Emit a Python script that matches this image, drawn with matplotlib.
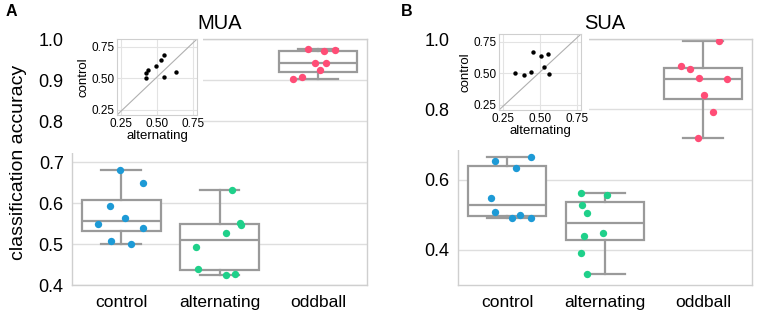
"""
Decoding accuracy per condition (MUA / SUA) as boxplots with session dots,
plus an inset scatter of control vs alternating accuracy per session.
"""
import matplotlib
matplotlib.use("Agg")
import matplotlib.pyplot as plt
import numpy as np
from matplotlib.patches import Rectangle

plt.rcParams["font.family"] = ["Liberation Sans", "DejaVu Sans"]

conditions = ["control", "alternating", "oddball"]
colors = ["#1d9ad6", "#1fd08a", "#ff4d76"]

# MUA, sessions in the same order for control / alternating
mua_control = [0.680, 0.648, 0.593, 0.563, 0.548, 0.539, 0.507, 0.500]
mua_alternating = [0.550, 0.528, 0.493, 0.439, 0.632, 0.426, 0.547, 0.424]
mua_oddball = [0.975, 0.971, 0.972, 0.942, 0.941, 0.924, 0.908, 0.902]

# SUA
sua_control = [0.665, 0.654, 0.633, 0.547, 0.509, 0.500, 0.490, 0.491]
sua_alternating = [0.449, 0.555, 0.505, 0.529, 0.440, 0.331, 0.391, 0.561]
sua_oddball = [0.995, 0.924, 0.914, 0.889, 0.886, 0.841, 0.791, 0.719]

# horizontal strip jitter (category units)
mua_jitter = [
    [-0.01, 0.22, -0.11, 0.04, -0.24, 0.22, -0.10, 0.10],
    [0.21, 0.07, -0.24, -0.22, 0.13, 0.16, 0.22, 0.07],
    [-0.10, 0.06, 0.17, -0.03, 0.08, 0.02, -0.16, -0.25],
]
sua_jitter = [
    [0.24, -0.12, 0.09, -0.16, -0.12, 0.13, 0.05, 0.24],
    [-0.02, 0.02, -0.18, -0.23, -0.21, -0.18, -0.24, -0.24],
    [0.16, -0.22, -0.13, -0.04, 0.24, 0.01, 0.10, -0.05],
]

W, H = 759, 319
BOX_GRAY = "#9a9a9a"
GRID = "#dedede"
SPINE = "#cfcfcf"


def fx(px):
    return px / W


def fy(py):
    return 1 - py / H


def panel(ax, groups, jitter, title, ylim, yticks):
    pos = np.arange(len(groups))
    lp = dict(color=BOX_GRAY, linewidth=1.6)
    ax.boxplot(groups, positions=pos, widths=0.8, whis=(0, 100),
               showfliers=False, patch_artist=True,
               boxprops=dict(facecolor="white", edgecolor=BOX_GRAY, linewidth=1.6),
               medianprops=lp, whiskerprops=lp, capprops=lp, zorder=2)
    for i, (vals, jit) in enumerate(zip(groups, jitter)):
        ax.scatter(i + np.array(jit), vals, s=28, color=colors[i],
                   linewidths=0, zorder=3)
    ax.set_xlim(-0.5, len(groups) - 0.5)
    ax.set_ylim(*ylim)
    ax.set_yticks(yticks)
    ax.set_xticks(pos)
    ax.set_xticklabels(conditions)
    ax.tick_params(axis="y", length=0, pad=6, labelsize=13)
    ax.tick_params(axis="x", length=0, pad=7, labelsize=12.5)
    ax.yaxis.grid(True, color=GRID, lw=1.0, zorder=0)
    ax.set_axisbelow(True)
    for s in ax.spines.values():
        s.set_color(SPINE)
        s.set_linewidth(1.0)
    ax.set_title(title, fontsize=14.5, pad=7)


def inset(rect, alt, ctrl):
    ax = fig.add_axes(rect, zorder=2)
    ax.scatter(alt, ctrl, s=10, color="black", linewidths=0, zorder=3)
    ax.plot([0, 1], [0, 1], transform=ax.transAxes, color="#b0b0b0", lw=0.8,
            zorder=2)
    ax.set_xlim(0.22, 0.78)
    ax.set_ylim(0.21, 0.81)
    ticks = [0.25, 0.5, 0.75]
    ax.set_xticks(ticks)
    ax.set_yticks(ticks)
    ax.set_xticklabels(["0.25", "0.50", "0.75"])
    ax.set_yticklabels(["0.25", "0.50", "0.75"])
    ax.tick_params(length=0, pad=2, labelsize=8.5)
    ax.grid(True, color="#e3e3e3", lw=0.8)
    ax.set_axisbelow(True)
    for s in ax.spines.values():
        s.set_color(SPINE)
        s.set_linewidth(0.8)
    ax.set_xlabel("alternating", fontsize=9.5, labelpad=0)
    ax.set_ylabel("control", fontsize=9.5, labelpad=1)
    return ax


fig = plt.figure(figsize=(W / 100, H / 100), dpi=100)

axA = fig.add_axes([fx(72), fy(285), fx(295), 246 / H])
axB = fig.add_axes([fx(458), fy(285), fx(294), 246 / H])

panel(axA, [mua_control, mua_alternating, mua_oddball], mua_jitter, "MUA",
      (0.4, 1.0), np.round(np.arange(0.4, 1.01, 0.1), 1))
panel(axB, [sua_control, sua_alternating, sua_oddball], sua_jitter, "SUA",
      (0.3, 1.0), [0.4, 0.6, 0.8, 1.0])

# white backing behind the insets (hides the upper-left corner of each panel)
for x0, x1, y1 in [(66, 203, 153), (452, 589, 150)]:
    fig.add_artist(Rectangle((fx(x0), fy(y1)), fx(x1 - x0), (y1 - 30) / H,
                             transform=fig.transFigure, facecolor="white",
                             edgecolor="none", zorder=1))

inset([fx(117), fy(115), fx(80), 76 / H], mua_alternating, mua_control)
inset([fx(499), fy(110), fx(82), 76 / H], sua_alternating, sua_control)

fig.text(fx(19), fy(162), "classification accuracy", rotation=90,
         ha="center", va="center", fontsize=14)
fig.text(fx(11), fy(12), "A", ha="center", va="center", fontsize=11.5,
         fontweight="bold")
fig.text(fx(407), fy(12), "B", ha="center", va="center", fontsize=11.5,
         fontweight="bold")

fig.savefig("out.png", dpi=100)
